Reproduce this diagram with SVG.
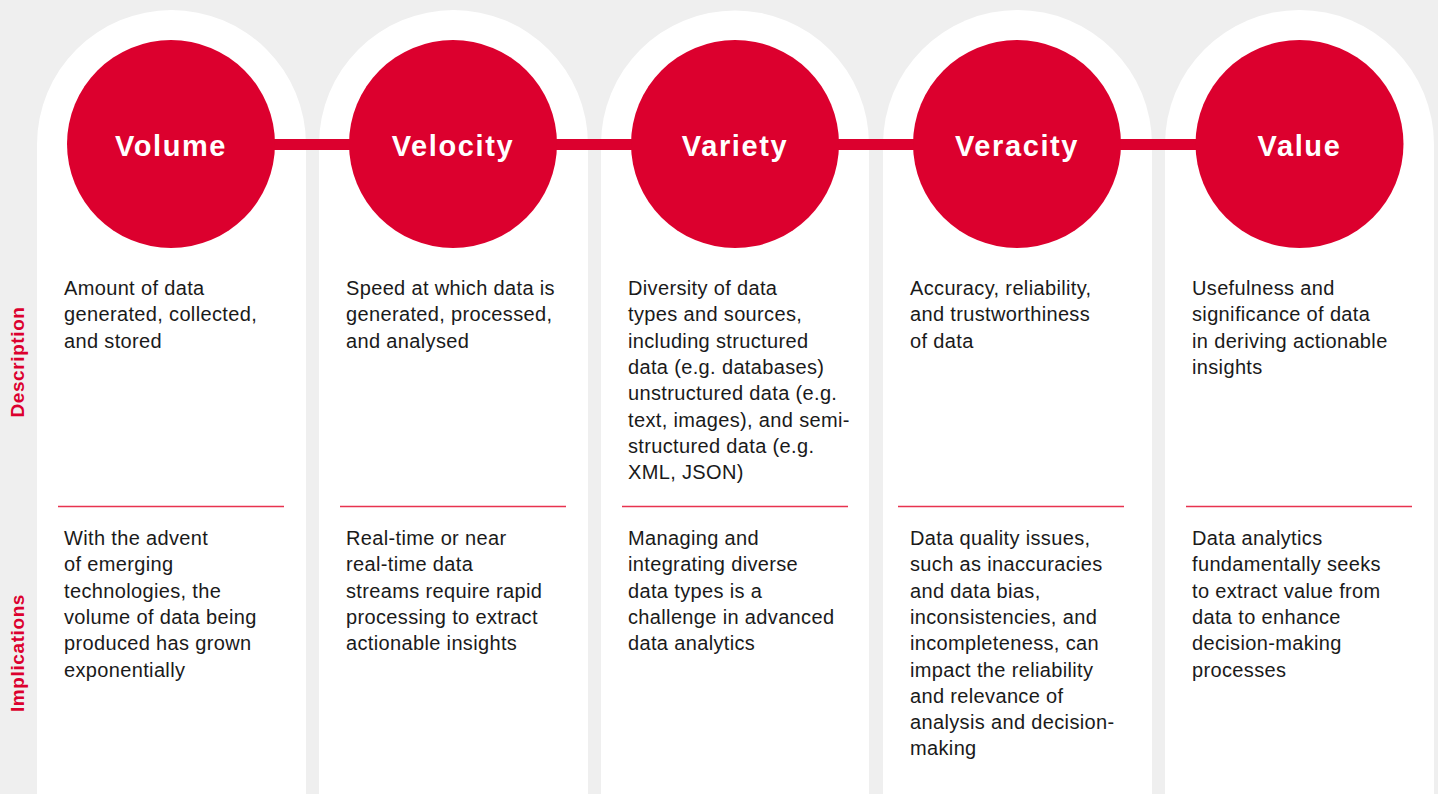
<svg xmlns="http://www.w3.org/2000/svg" width="1438" height="794" viewBox="0 0 1438 794">
<style>
.col{fill:#ffffff}
.dot{fill:#dc002e}
.bar{fill:#dc002e}
.title{font-family:"Liberation Sans",Arial,sans-serif;font-weight:bold;font-size:29px;fill:#ffffff;text-anchor:middle;letter-spacing:1.6px}
.body{font-family:"Liberation Sans",Arial,sans-serif;font-size:20px;fill:#1a1a1a;letter-spacing:0.35px}
.div{stroke:#e8334f;stroke-width:1.3}
.side{font-family:"Liberation Sans",Arial,sans-serif;font-weight:bold;font-size:19px;fill:#dc002e;text-anchor:middle;letter-spacing:0.6px}
</style>
<rect x="0" y="0" width="1438" height="794" fill="#efefef"/>
<g id="columns">
<path class="col" d="M37,794 V144.5 A134.5,134.5 0 0 1 306,144.5 V794 Z"/>
<path class="col" d="M319,794 V144.5 A134.5,134.5 0 0 1 588,144.5 V794 Z"/>
<path class="col" d="M601,794 V144.5 A134,134 0 0 1 869,144.5 V794 Z"/>
<path class="col" d="M883,794 V144.5 A134.5,134.5 0 0 1 1152,144.5 V794 Z"/>
<path class="col" d="M1165,794 V144.5 A134.5,134.5 0 0 1 1434,144.5 V794 Z"/>
</g>
<g id="connectors">
<rect class="bar" x="171" y="139" width="1128" height="11"/>
</g>
<g id="side-labels">
<text class="side" transform="translate(24,362) rotate(-90)">Description</text>
<text class="side" transform="translate(24,653) rotate(-90)">Implications</text>
</g>
<g id="dividers">
<line class="div" x1="58" y1="506.5" x2="284" y2="506.5"/>
<line class="div" x1="340" y1="506.5" x2="566" y2="506.5"/>
<line class="div" x1="622" y1="506.5" x2="848" y2="506.5"/>
<line class="div" x1="898" y1="506.5" x2="1124" y2="506.5"/>
<line class="div" x1="1186" y1="506.5" x2="1412" y2="506.5"/>
</g>
<g id="node-volume">
<circle class="dot" cx="171" cy="144" r="104"/>
<text class="title" x="171" y="156">Volume</text>
<text class="body" x="64" y="295"><tspan x="64">Amount of data</tspan><tspan x="64" dy="26.3">generated, collected,</tspan><tspan x="64" dy="26.3">and stored</tspan></text>
<text class="body" x="64" y="545"><tspan x="64">With the advent</tspan><tspan x="64" dy="26.3">of emerging</tspan><tspan x="64" dy="26.3">technologies, the</tspan><tspan x="64" dy="26.3">volume of data being</tspan><tspan x="64" dy="26.3">produced has grown</tspan><tspan x="64" dy="26.3">exponentially</tspan></text>
</g>
<g id="node-velocity">
<circle class="dot" cx="453" cy="144" r="104"/>
<text class="title" x="453" y="156">Velocity</text>
<text class="body" x="346" y="295"><tspan x="346">Speed at which data is</tspan><tspan x="346" dy="26.3">generated, processed,</tspan><tspan x="346" dy="26.3">and analysed</tspan></text>
<text class="body" x="346" y="545"><tspan x="346">Real-time or near</tspan><tspan x="346" dy="26.3">real-time data</tspan><tspan x="346" dy="26.3">streams require rapid</tspan><tspan x="346" dy="26.3">processing to extract</tspan><tspan x="346" dy="26.3">actionable insights</tspan></text>
</g>
<g id="node-variety">
<circle class="dot" cx="735" cy="144" r="104"/>
<text class="title" x="735" y="156">Variety</text>
<text class="body" x="628" y="295"><tspan x="628">Diversity of data</tspan><tspan x="628" dy="26.3">types and sources,</tspan><tspan x="628" dy="26.3">including structured</tspan><tspan x="628" dy="26.3">data (e.g. databases)</tspan><tspan x="628" dy="26.3">unstructured data (e.g.</tspan><tspan x="628" dy="26.3">text, images), and semi-</tspan><tspan x="628" dy="26.3">structured data (e.g.</tspan><tspan x="628" dy="26.3">XML, JSON)</tspan></text>
<text class="body" x="628" y="545"><tspan x="628">Managing and</tspan><tspan x="628" dy="26.3">integrating diverse</tspan><tspan x="628" dy="26.3">data types is a</tspan><tspan x="628" dy="26.3">challenge in advanced</tspan><tspan x="628" dy="26.3">data analytics</tspan></text>
</g>
<g id="node-veracity">
<circle class="dot" cx="1017" cy="144" r="104"/>
<text class="title" x="1017" y="156">Veracity</text>
<text class="body" x="910" y="295"><tspan x="910">Accuracy, reliability,</tspan><tspan x="910" dy="26.3">and trustworthiness</tspan><tspan x="910" dy="26.3">of data</tspan></text>
<text class="body" x="910" y="545"><tspan x="910">Data quality issues,</tspan><tspan x="910" dy="26.3">such as inaccuracies</tspan><tspan x="910" dy="26.3">and data bias,</tspan><tspan x="910" dy="26.3">inconsistencies, and</tspan><tspan x="910" dy="26.3">incompleteness, can</tspan><tspan x="910" dy="26.3">impact the reliability</tspan><tspan x="910" dy="26.3">and relevance of</tspan><tspan x="910" dy="26.3">analysis and decision-</tspan><tspan x="910" dy="26.3">making</tspan></text>
</g>
<g id="node-value">
<circle class="dot" cx="1299.5" cy="144" r="104"/>
<text class="title" x="1299.5" y="156">Value</text>
<text class="body" x="1192" y="295"><tspan x="1192">Usefulness and</tspan><tspan x="1192" dy="26.3">significance of data</tspan><tspan x="1192" dy="26.3">in deriving actionable</tspan><tspan x="1192" dy="26.3">insights</tspan></text>
<text class="body" x="1192" y="545"><tspan x="1192">Data analytics</tspan><tspan x="1192" dy="26.3">fundamentally seeks</tspan><tspan x="1192" dy="26.3">to extract value from</tspan><tspan x="1192" dy="26.3">data to enhance</tspan><tspan x="1192" dy="26.3">decision-making</tspan><tspan x="1192" dy="26.3">processes</tspan></text>
</g>
</svg>
